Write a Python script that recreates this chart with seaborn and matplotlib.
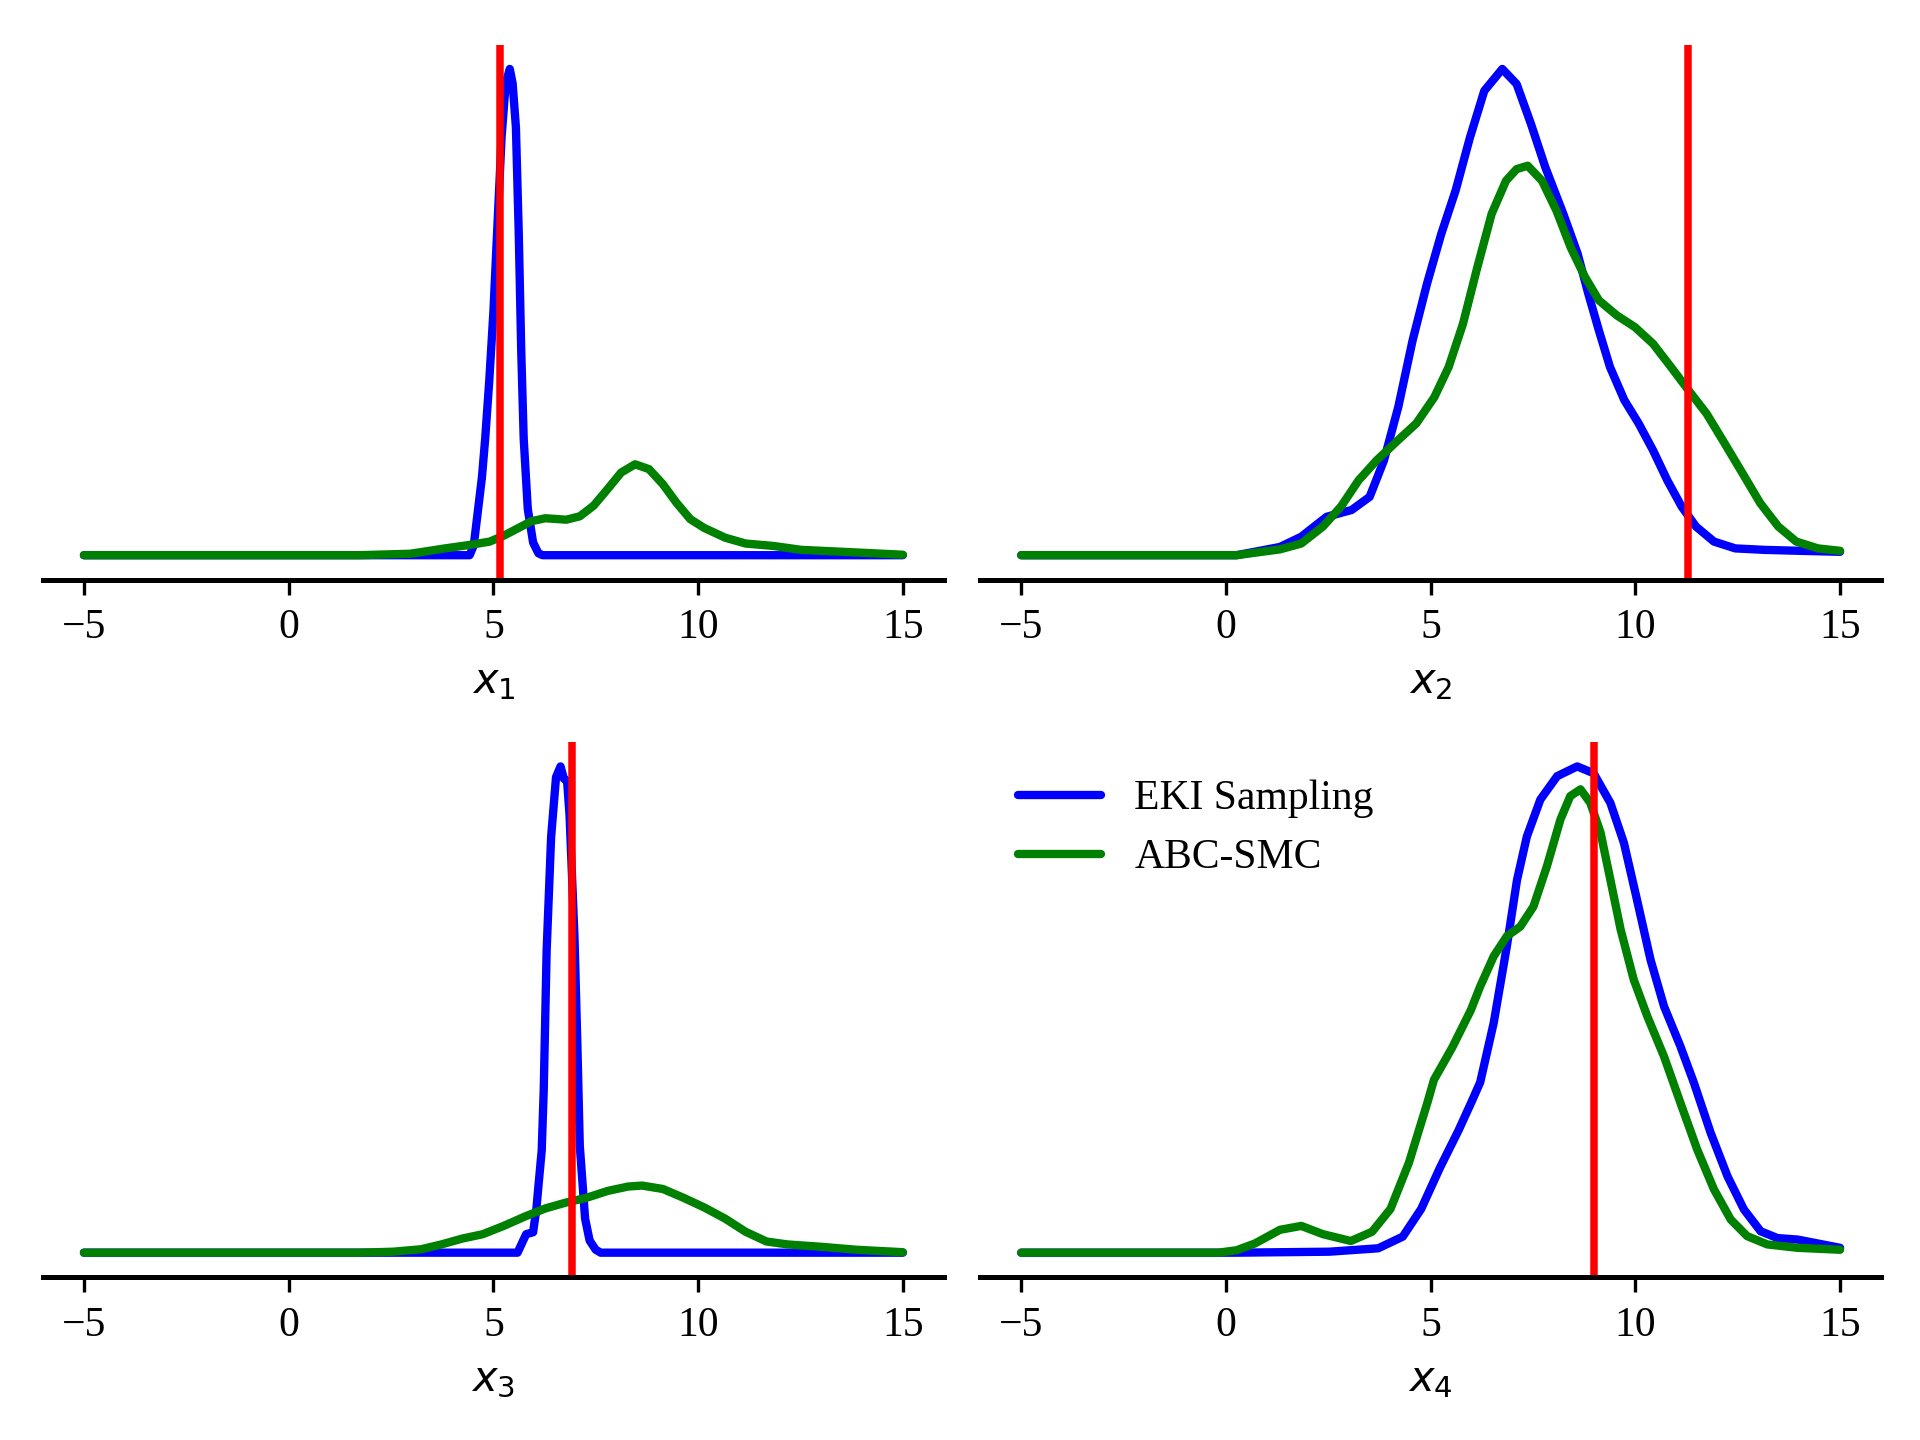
import matplotlib
matplotlib.use("Agg")
import matplotlib.pyplot as plt
import seaborn as sns

# true parameter values (red lines)
true_vals = [5.17, 11.29, 6.91, 8.98]
labels = [r"$x_1$", r"$x_2$", r"$x_3$", r"$x_4$"]

# posterior densities (x grid, density)
eki_x1_x = [-5, 4.42, 4.52, 4.62, 4.72, 4.8, 4.9, 5.0, 5.1, 5.2, 5.3, 5.4, 5.47, 5.55, 5.62, 5.68, 5.74, 5.84, 5.97, 6.1, 6.2, 15]
eki_x1_y = [0, 0, 0.02, 0.09, 0.16, 0.24, 0.36, 0.5, 0.68, 0.86, 0.97, 1.0, 0.97, 0.88, 0.66, 0.42, 0.24, 0.095, 0.026, 0.004, 0, 0]
abc_x1_x = [-5, 1.71, 2.97, 3.82, 4.49, 4.91, 5.25, 5.59, 5.93, 6.27, 6.78, 7.11, 7.45, 7.79, 8.12, 8.46, 8.8, 9.14, 9.47, 9.81, 10.15, 10.66, 11.16, 11.84, 12.52, 13.53, 15]
abc_x1_y = [0, 0, 0.003, 0.014, 0.022, 0.028, 0.04, 0.055, 0.07, 0.076, 0.073, 0.08, 0.102, 0.136, 0.17, 0.187, 0.177, 0.146, 0.108, 0.074, 0.056, 0.036, 0.024, 0.019, 0.011, 0.007, 0.001]

eki_x2_x = [-5, 0.26, 1.32, 1.84, 2.46, 3.07, 3.51, 3.86, 4.21, 4.56, 4.91, 5.26, 5.61, 5.96, 6.31, 6.75, 7.1, 7.45, 7.8, 8.24, 8.59, 8.85, 9.11, 9.38, 9.73, 10.08, 10.43, 10.78, 11.13, 11.48, 11.92, 12.44, 13.14, 14.02, 15]
eki_x2_y = [0, 0, 0.017, 0.038, 0.079, 0.093, 0.12, 0.195, 0.305, 0.442, 0.558, 0.661, 0.75, 0.859, 0.955, 1.0, 0.969, 0.887, 0.798, 0.702, 0.62, 0.538, 0.462, 0.387, 0.319, 0.271, 0.216, 0.154, 0.1, 0.059, 0.028, 0.014, 0.011, 0.009, 0.007]
abc_x2_x = [-5, 0.26, 1.32, 1.84, 2.37, 2.81, 3.24, 3.68, 4.21, 4.65, 5.09, 5.44, 5.79, 6.14, 6.49, 6.84, 7.1, 7.37, 7.72, 8.07, 8.42, 8.77, 9.11, 9.55, 9.99, 10.43, 10.87, 11.3, 11.74, 12.18, 12.62, 13.05, 13.49, 13.93, 14.46, 15]
abc_x2_y = [0, 0, 0.012, 0.024, 0.059, 0.1, 0.154, 0.195, 0.237, 0.271, 0.325, 0.387, 0.476, 0.592, 0.702, 0.77, 0.794, 0.801, 0.77, 0.709, 0.633, 0.572, 0.524, 0.493, 0.469, 0.435, 0.387, 0.339, 0.291, 0.23, 0.168, 0.107, 0.059, 0.028, 0.014, 0.009]

eki_x3_x = [-5, 5.59, 5.7, 5.8, 5.97, 6.05, 6.1, 6.18, 6.23, 6.3, 6.41, 6.53, 6.64, 6.72, 6.8, 6.86, 6.98, 7.05, 7.11, 7.24, 7.35, 7.5, 7.62, 15]
eki_x3_y = [0, 0, 0.02, 0.038, 0.042, 0.09, 0.137, 0.21, 0.336, 0.62, 0.855, 0.978, 1.0, 0.975, 0.97, 0.9, 0.65, 0.43, 0.22, 0.07, 0.025, 0.006, 0, 0]
abc_x3_x = [-5, 1.71, 2.55, 3.23, 3.73, 4.24, 4.74, 5.25, 5.76, 6.27, 6.77, 7.28, 7.79, 8.29, 8.63, 9.14, 9.64, 10.15, 10.66, 11.16, 11.67, 12.18, 13.02, 13.87, 15]
abc_x3_y = [0, 0, 0.002, 0.007, 0.017, 0.029, 0.038, 0.055, 0.074, 0.091, 0.103, 0.113, 0.127, 0.136, 0.138, 0.131, 0.113, 0.093, 0.07, 0.043, 0.023, 0.017, 0.012, 0.006, 0.001]

eki_x4_x = [-5, 0.26, 2.52, 3.72, 4.32, 4.77, 5.23, 5.68, 6.0, 6.21, 6.54, 6.86, 7.11, 7.35, 7.68, 8.09, 8.58, 8.98, 9.39, 9.72, 10.04, 10.37, 10.7, 11.1, 11.43, 11.84, 12.25, 12.65, 13.06, 13.47, 13.96, 14.45, 15]
eki_x4_y = [0, 0, 0.002, 0.009, 0.033, 0.09, 0.175, 0.251, 0.31, 0.35, 0.472, 0.629, 0.766, 0.855, 0.931, 0.979, 0.999, 0.985, 0.924, 0.842, 0.725, 0.602, 0.506, 0.424, 0.349, 0.246, 0.157, 0.089, 0.044, 0.03, 0.027, 0.019, 0.01]
abc_x4_x = [-5, -0.19, 0.26, 0.71, 1.32, 1.84, 2.37, 3.05, 3.57, 4.02, 4.47, 4.92, 5.08, 5.53, 5.98, 6.21, 6.54, 6.86, 7.19, 7.51, 7.84, 8.17, 8.41, 8.66, 8.9, 9.15, 9.39, 9.64, 9.96, 10.29, 10.7, 11.1, 11.51, 11.92, 12.33, 12.73, 13.22, 13.96, 15]
abc_x4_y = [0, 0, 0.005, 0.019, 0.047, 0.055, 0.038, 0.024, 0.043, 0.09, 0.185, 0.308, 0.355, 0.422, 0.498, 0.547, 0.609, 0.65, 0.67, 0.711, 0.794, 0.89, 0.938, 0.952, 0.924, 0.863, 0.766, 0.664, 0.561, 0.486, 0.403, 0.308, 0.212, 0.13, 0.068, 0.034, 0.017, 0.01, 0.006]

eki = [(eki_x1_x, eki_x1_y), (eki_x2_x, eki_x2_y), (eki_x3_x, eki_x3_y), (eki_x4_x, eki_x4_y)]
abc = [(abc_x1_x, abc_x1_y), (abc_x2_x, abc_x2_y), (abc_x3_x, abc_x3_y), (abc_x4_x, abc_x4_y)]

sns.set_style("ticks", {"axes.edgecolor": "black", "xtick.color": "black",
                        "text.color": "black", "axes.labelcolor": "black"})
plt.rcParams["font.family"] = ["Liberation Serif", "DejaVu Serif"]
plt.rcParams["mathtext.fontset"] = "dejavusans"
plt.rcParams["axes.linewidth"] = 1.2

fig, axes = plt.subplots(2, 2, figsize=(6.4, 4.8))
fig.subplots_adjust(left=0.0224, right=0.9797, top=0.969, bottom=0.1132, wspace=0.0405, hspace=0.304)

for i, ax in enumerate(axes.flat):
    last = i == 3
    sns.lineplot(x=eki[i][0], y=eki[i][1], ax=ax, color="blue", lw=2,
                 label="EKI Sampling" if last else None)
    sns.lineplot(x=abc[i][0], y=abc[i][1], ax=ax, color="green", lw=2,
                 label="ABC-SMC" if last else None)
    ax.axvline(true_vals[i], color="red", lw=1.8)
    ax.set_xticks([-5, 0, 5, 10, 15])
    ax.set_yticks([])
    ax.set_ylabel("")
    ax.set_xlabel(labels[i], fontsize=10)
    ax.tick_params(axis="x", labelsize=10, width=0.8, length=3.5)
    sns.despine(ax=ax, left=True)
    if last:
        ax.legend(loc="upper left", frameon=False, fontsize=10)
    elif ax.get_legend() is not None:
        ax.get_legend().remove()

plt.savefig("out.png", dpi=300)
